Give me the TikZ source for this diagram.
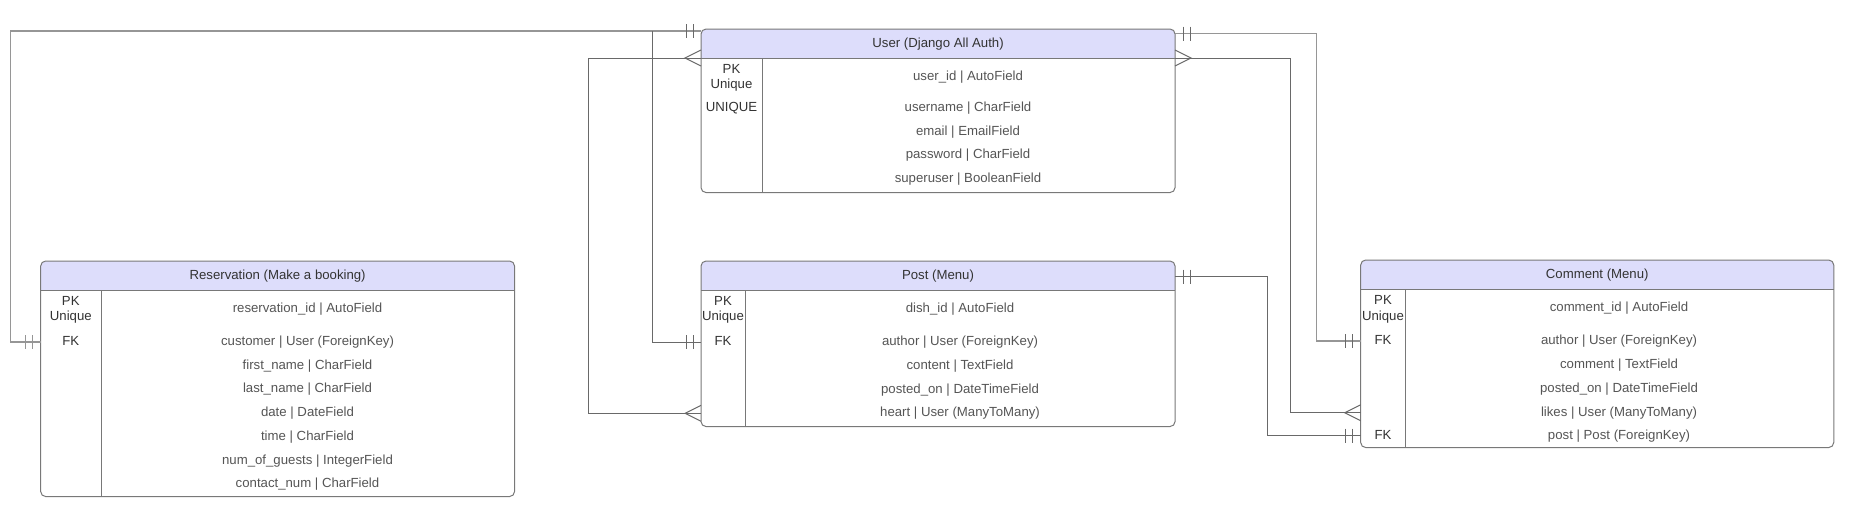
\documentclass[tikz,border=0pt]{standalone}
\usepackage{fontspec}
\setmainfont{Liberation Sans}
\usetikzlibrary{calc}
\definecolor{hdrfill}{RGB}{221,221,251}
\definecolor{boxcol}{RGB}{120,120,120}
\definecolor{txtdark}{RGB}{51,51,51}
\definecolor{txtfld}{RGB}{85,85,85}
\definecolor{lnlight}{RGB}{150,150,150}
\definecolor{lndark}{RGB}{105,105,105}
\newcommand\fsz{\fontsize{9.9pt}{11.6pt}\selectfont}
\tikzset{
  boxline/.style={draw=boxcol, line width=0.75pt},
  ent/.style={anchor=north west, inner sep=0pt, draw=none},
  hdrtext/.style={font=\fsz, text=txtdark, inner sep=0pt, text height=5.3pt, text depth=0pt},
  fld/.style={font=\fsz, text=txtfld, inner sep=0pt, text height=5.3pt, text depth=0pt},
  keylab/.style={font=\fsz, text=txtdark, inner sep=0pt, text height=5.3pt, text depth=0pt},
  keytwo/.style={font=\fsz, text=txtdark, inner sep=0pt, align=center, anchor=base},
  connL/.style={draw=lnlight, line width=1pt},
  connD/.style={draw=lndark, line width=0.75pt},
}
\newcommand\drawentity[2]{%
  \begin{scope}
    \clip (#1.north west) rectangle ($(#1.north east)+(0,29)$);
    \fill[hdrfill, rounded corners=3.75pt] (#1.north west) rectangle (#1.south east);
  \end{scope}
  \draw[boxline, rounded corners=3.75pt] (#1.north west) rectangle (#1.south east);
  \draw[boxline] ($(#1.north west)+(0,29)$) -- ($(#1.north east)+(0,29)$);
  \draw[boxline] ($(#1.north west)+(#2,29)$) -- ($(#1.south west)+(#2,0)$);
}
\newcommand\barsW[2]{\draw[#1] ($(#2)+(-8,-7)$) -- ($(#2)+(-8,7)$) ($(#2)+(-15,-7)$) -- ($(#2)+(-15,7)$);}
\newcommand\barsE[2]{\draw[#1] ($(#2)+(8,-7)$) -- ($(#2)+(8,7)$) ($(#2)+(15,-7)$) -- ($(#2)+(15,7)$);}
\newcommand\crowW[2]{\draw[#1] ($(#2)+(0,-8)$) -- ($(#2)+(-16,0)$) -- ($(#2)+(0,8)$);}
\newcommand\crowE[2]{\draw[#1] ($(#2)+(0,-8)$) -- ($(#2)+(16,0)$) -- ($(#2)+(0,8)$);}
\begin{document}
\begin{tikzpicture}[x=0.75pt, y=-0.75pt]
\useasboundingbox (0,0) rectangle (1858,512);
\fill[white] (0,0) rectangle (1858,512);

% ---------- entity boxes ----------
\node[ent, minimum width=473.5*0.75pt, minimum height=163*0.75pt] (user) at (701,29) {};
\node[ent, minimum width=473.3*0.75pt, minimum height=235*0.75pt] (res) at (40.7,261) {};
\node[ent, minimum width=473.5*0.75pt, minimum height=165*0.75pt] (post) at (701,261) {};
\node[ent, minimum width=472.5*0.75pt, minimum height=187*0.75pt] (com) at (1360.7,260) {};
\drawentity{user}{61}
\drawentity{res}{60.3}
\drawentity{post}{44}
\drawentity{com}{44.3}

% ---------- User ----------
\node[hdrtext] (uh) at ($(user.north)+(0,14.5)$) {User (Django All Auth)};
\node[keytwo] (ukpk) at (731.5,88.5) {PK\\Unique};
\node[keylab] (ukuq) at (731.5,108.3) {UNIQUE};
\node[fld] (u1) at (968,76.5) {user\_id | AutoField};
\node[fld] (u2) at (968,108.3) {username | CharField};
\node[fld] (u3) at (968,131.8) {email | EmailField};
\node[fld] (u4) at (968,155.4) {password | CharField};
\node[fld] (u5) at (968,179) {superuser | BooleanField};

% ---------- Reservation ----------
\node[hdrtext] (rh) at ($(res.north)+(0,14.5)$) {Reservation (Make a booking)};
\node[keytwo] (rkpk) at (70.8,320.8) {PK\\Unique};
\node[keylab] (rkfk) at (70.8,342) {FK};
\node[fld] (r1) at (307.5,309) {reservation\_id | AutoField};
\node[fld] (r2) at (307.5,342) {customer | User (ForeignKey)};
\node[fld] (r3) at (307.5,365.7) {first\_name | CharField};
\node[fld] (r4) at (307.5,389.4) {last\_name | CharField};
\node[fld] (r5) at (307.5,413.1) {date | DateField};
\node[fld] (r6) at (307.5,436.8) {time | CharField};
\node[fld] (r7) at (307.5,460.5) {num\_of\_guests | IntegerField};
\node[fld] (r8) at (307.5,484.2) {contact\_num | CharField};

% ---------- Post ----------
\node[hdrtext] (ph) at ($(post.north)+(0,14.5)$) {Post (Menu)};
\node[keytwo] (pkpk) at (723,320.8) {PK\\Unique};
\node[keylab] (pkfk) at (723,342.3) {FK};
\node[fld] (p1) at (960,309) {dish\_id | AutoField};
\node[fld] (p2) at (960,342.3) {author | User (ForeignKey)};
\node[fld] (p3) at (960,366) {content | TextField};
\node[fld] (p4) at (960,389.7) {posted\_on | DateTimeField};
\node[fld] (p5) at (960,413.3) {heart | User (ManyToMany)};

% ---------- Comment ----------
\node[hdrtext] (ch) at ($(com.north)+(0,14.5)$) {Comment (Menu)};
\node[keytwo] (ckpk) at (1383,320) {PK\\Unique};
\node[keylab] (ckfk) at (1383,341) {FK};
\node[keylab] (ckfkb) at (1383,435.7) {FK};
\node[fld] (c1) at (1619,308.3) {comment\_id | AutoField};
\node[fld] (c2) at (1619,341) {author | User (ForeignKey)};
\node[fld] (c3) at (1619,364.9) {comment | TextField};
\node[fld] (c4) at (1619,388.8) {posted\_on | DateTimeField};
\node[fld] (c5) at (1619,412.7) {likes | User (ManyToMany)};
\node[fld] (c6) at (1619,435.7) {post | Post (ForeignKey)};

% ---------- connectors ----------
% Reservation.customer -> User
\draw[connL] (res.west |- r2) coordinate (e1a) -- ++(-30,0) |- ($(user.north west)+(0,2)$) coordinate (e1b);
\barsW{connL}{e1a}
\barsW{connD}{e1b}
% Post.author -> User
\draw[connD] (post.west |- p2) coordinate (e2a) -| ($(user.north west)+(-49,2)$);
\barsW{connD}{e2a}
% Post.heart <-> User
\draw[connD] (post.west |- p5) coordinate (e3a) -- ++(-113,0) |- ($(user.north west)+(0,29)$) coordinate (e3b);
\crowW{connD}{e3a}
\crowW{connD}{e3b}
% Comment.author -> User
\draw[connL] (com.west |- c2) coordinate (e4a) -- ++(-44,0) |- ($(user.north east)+(0,4.7)$) coordinate (e4b);
\barsW{connD}{e4a}
\barsE{connD}{e4b}
% Comment.likes <-> User
\draw[connD] (com.west |- c5) coordinate (e5a) -- ++(-70,0) |- ($(user.north east)+(0,29)$) coordinate (e5b);
\crowW{connD}{e5a}
\crowE{connD}{e5b}
% Comment.post -> Post
\draw[connD] (com.west |- c6) coordinate (e6a) -- ++(-93.4,0) |- ($(post.north east)+(0,15.5)$) coordinate (e6b);
\barsW{connD}{e6a}
\barsE{connD}{e6b}
\end{tikzpicture}
\end{document}
